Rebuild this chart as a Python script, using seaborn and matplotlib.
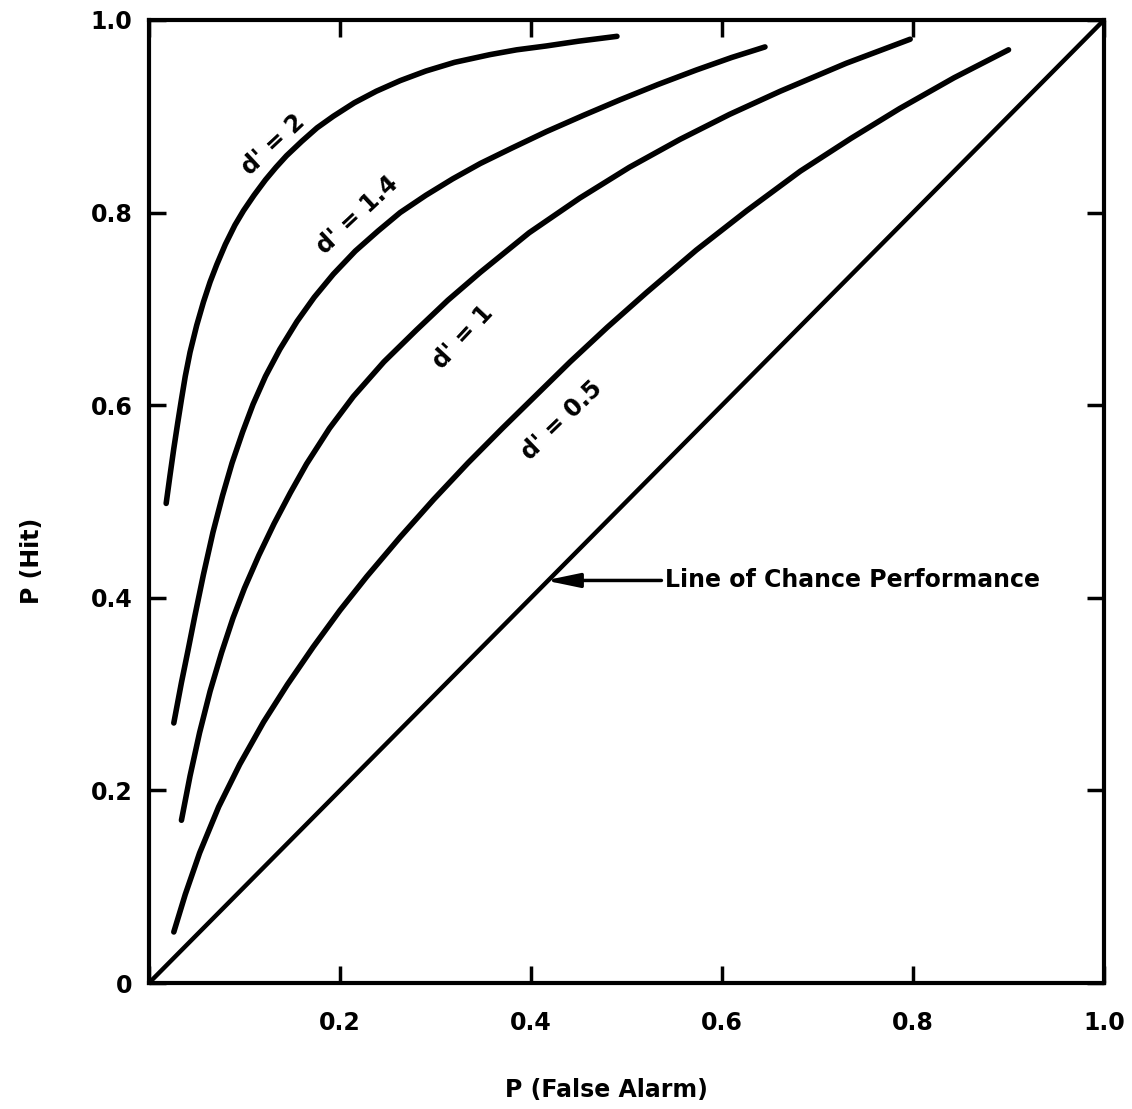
import seaborn as sns
import matplotlib.pyplot as plt
import pandas as pd

# points (P(False Alarm), P(Hit))
fa_d2 = [0.018, 0.022, 0.026, 0.030, 0.034, 0.038, 0.043, 0.050, 0.057, 0.064, 0.071, 0.080, 0.090,
         0.099, 0.110, 0.122, 0.133, 0.144, 0.160, 0.176, 0.193, 0.215, 0.238, 0.263, 0.290, 0.320,
         0.357, 0.385, 0.416, 0.450, 0.490]
hit_d2 = [0.498, 0.527, 0.555, 0.581, 0.606, 0.630, 0.655, 0.683, 0.707, 0.728, 0.746, 0.767, 0.787,
          0.802, 0.818, 0.834, 0.847, 0.859, 0.874, 0.888, 0.900, 0.914, 0.926, 0.937, 0.947, 0.956,
          0.964, 0.969, 0.973, 0.978, 0.983]

fa_d14 = [0.026, 0.030, 0.034, 0.041, 0.048, 0.057, 0.067, 0.077, 0.087, 0.098, 0.109, 0.122, 0.137,
          0.155, 0.173, 0.193, 0.216, 0.240, 0.263, 0.290, 0.318, 0.347, 0.380, 0.416, 0.455, 0.493,
          0.533, 0.573, 0.610, 0.645]
hit_d14 = [0.270, 0.291, 0.312, 0.346, 0.381, 0.424, 0.468, 0.506, 0.540, 0.572, 0.601, 0.630, 0.658,
           0.687, 0.712, 0.736, 0.760, 0.781, 0.800, 0.818, 0.835, 0.851, 0.867, 0.884, 0.901, 0.917,
           0.933, 0.948, 0.961, 0.972]

fa_d1 = [0.034, 0.043, 0.053, 0.064, 0.076, 0.088, 0.100, 0.115, 0.131, 0.148, 0.165, 0.189, 0.214,
         0.246, 0.280, 0.313, 0.347, 0.398, 0.451, 0.503, 0.556, 0.608, 0.661, 0.730, 0.797]
hit_d1 = [0.169, 0.215, 0.260, 0.303, 0.343, 0.379, 0.410, 0.444, 0.477, 0.509, 0.539, 0.576, 0.609,
          0.645, 0.678, 0.709, 0.738, 0.779, 0.815, 0.847, 0.876, 0.902, 0.926, 0.955, 0.980]

fa_d05 = [0.026, 0.038, 0.053, 0.073, 0.095, 0.120, 0.145, 0.172, 0.200, 0.228, 0.263, 0.298, 0.334,
          0.370, 0.405, 0.441, 0.480, 0.521, 0.573, 0.626, 0.682, 0.735, 0.786, 0.843, 0.900]
hit_d05 = [0.053, 0.092, 0.135, 0.183, 0.227, 0.271, 0.310, 0.349, 0.387, 0.422, 0.463, 0.502, 0.540,
           0.576, 0.610, 0.645, 0.681, 0.717, 0.761, 0.802, 0.843, 0.877, 0.908, 0.940, 0.969]

chance_x = [0.0, 1.0]
chance_y = [0.0, 1.0]

curve_names = ["d' = 2", "d' = 1.4", "d' = 1", "d' = 0.5"]
label_pos = [(0.130, 0.870, 43), (0.218, 0.797, 43), (0.329, 0.671, 47), (0.432, 0.584, 44)]

ticks = [0, 0.2, 0.4, 0.6, 0.8, 1.0]
tick_labels = ['0', '0.2', '0.4', '0.6', '0.8', '1.0']

rows = []
for name, xs, ys in zip(curve_names, [fa_d2, fa_d14, fa_d1, fa_d05],
                        [hit_d2, hit_d14, hit_d1, hit_d05]):
    for a, b in zip(xs, ys):
        rows.append({'curve': name, 'fa': a, 'hit': b})
df = pd.DataFrame(rows)

sns.set_style("ticks")
plt.rcParams['font.family'] = ['DejaVu Sans']
plt.rcParams.update({'font.weight': 'bold', 'axes.labelweight': 'bold',
                     'text.color': 'black', 'axes.labelcolor': 'black',
                     'xtick.color': 'black', 'ytick.color': 'black'})

fig = plt.figure(figsize=(11.32, 11.09), dpi=100)
ax = fig.add_axes([0.1316, 0.1136, 0.8437, 0.8684])

sns.lineplot(data=df, x='fa', y='hit', hue='curve', units='curve', estimator=None, sort=False,
             palette=['black'] * 4, linewidth=4, legend=False, ax=ax,
             solid_capstyle='round', solid_joinstyle='round')
sns.lineplot(x=chance_x, y=chance_y, color='black', linewidth=3.2, ax=ax)

ax.set_xlim(0, 1)
ax.set_ylim(0, 1)
ax.set_xticks(ticks)
ax.set_yticks(ticks)
ax.set_xticklabels([''] + tick_labels[1:])
ax.set_yticklabels(tick_labels)
ax.tick_params(direction='in', length=12, width=2.5, top=True, right=True, labelsize=17)
ax.tick_params(axis='x', pad=20)
ax.tick_params(axis='y', pad=12)
for s in ax.spines.values():
    s.set_linewidth(3)
    s.set_color('black')

for name, (tx, ty, rot) in zip(curve_names, label_pos):
    ax.text(tx, ty, name, rotation=rot, rotation_mode='anchor', ha='center', va='center', fontsize=17)

ax.annotate('Line of Chance Performance', xy=(0.415, 0.418), xytext=(0.540, 0.418),
            va='center', ha='left', fontsize=17,
            arrowprops=dict(arrowstyle='-|>,head_length=1.2,head_width=0.25', lw=2.5, color='black',
                            shrinkA=0, shrinkB=0))

ax.set_xlabel('P (False Alarm)', fontsize=17)
ax.set_ylabel('P (Hit)', fontsize=17)
ax.xaxis.set_label_coords(0.4785, -0.0987)
ax.yaxis.set_label_coords(-0.110, 0.438)

fig.savefig('out.png', dpi=100)
